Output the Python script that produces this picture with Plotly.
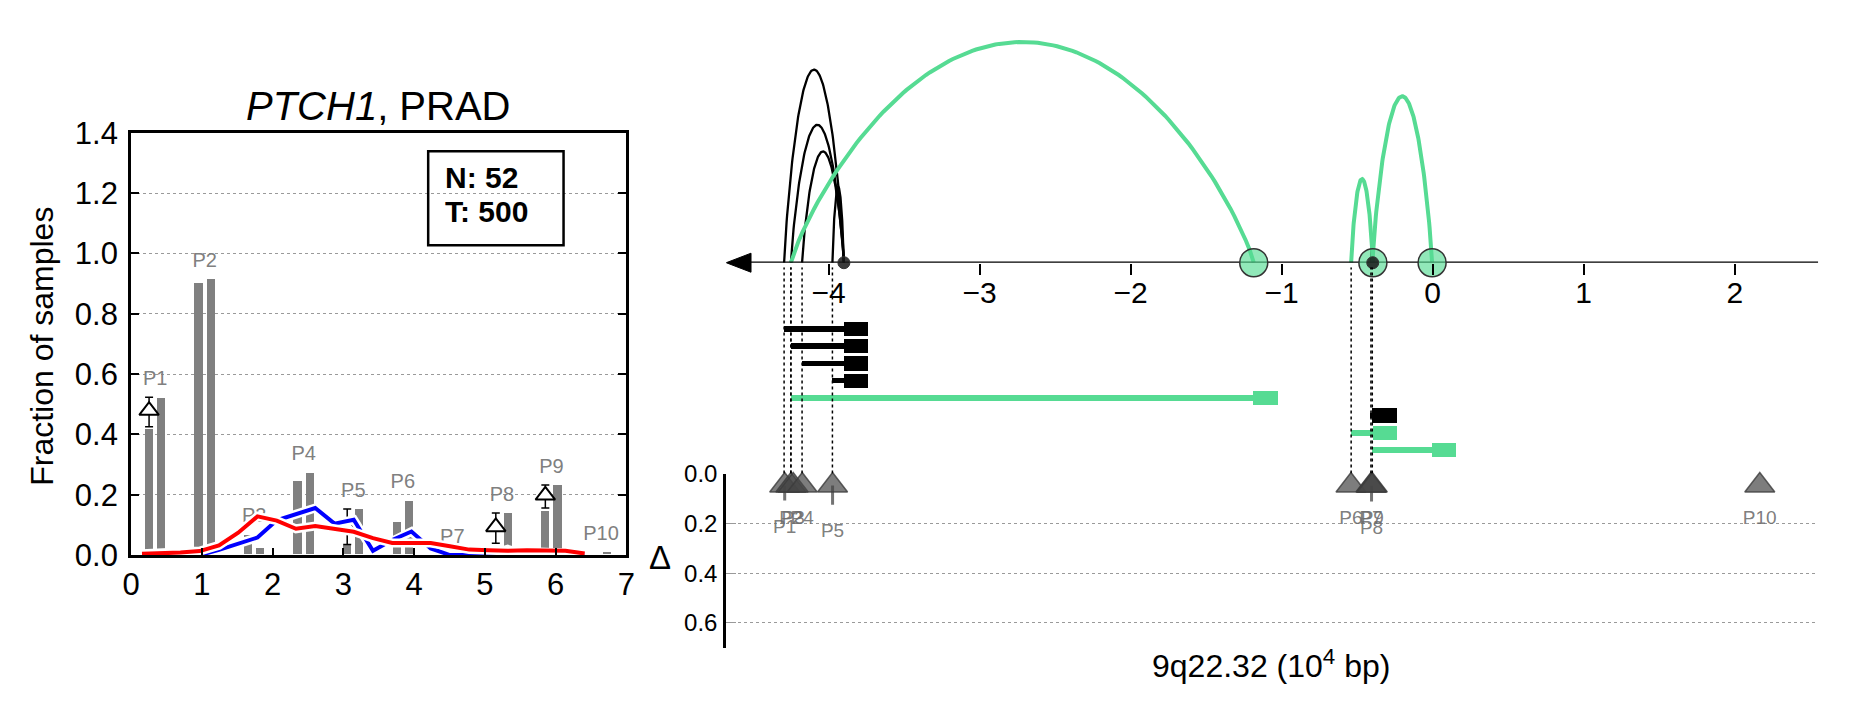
import numpy as np
import plotly.graph_objects as go

FIG_W, FIG_H = 1851, 718
FONT = "Liberation Sans, Arial, sans-serif"
GREEN = "#56DB93"
GREEN_FILL = "rgba(86,219,147,0.65)"
GRAY = "#808080"

# ---------------- left panel data ----------------
peak_names = ["P1", "P2", "P3", "P4", "P5", "P6", "P7", "P8", "P9", "P10"]
peak_x = [0.34, 1.04, 1.74, 2.44, 3.14, 3.84, 4.54, 5.24, 5.94, 6.64]
normal_frac = [0.420, 0.902, 0.068, 0.246, 0.035, 0.109, 0.0, 0.0, 0.148, 0.0]
tumor_frac = [0.523, 0.915, 0.024, 0.274, 0.153, 0.181, 0.0, 0.139, 0.233, 0.011]
delta_peaks = ["P1", "P5", "P8", "P9"]
delta_mid = [0.479, 0.094, 0.093, 0.198]
delta_low = [0.425, 0.035, 0.039, 0.156]
delta_high = [0.523, 0.153, 0.139, 0.232]
cn_x = [0.154, 0.426, 0.698, 0.970, 1.242, 1.514, 1.786, 2.058, 2.330, 2.602, 2.874, 3.146,
        3.418, 3.690, 3.962, 4.234, 4.506, 4.778, 5.050, 5.322, 5.594, 5.866, 6.138, 6.410]
normal_curve = [0.0, 0.0, 0.0, 0.0, 0.017, 0.037, 0.058, 0.115, 0.136, 0.156, 0.104, 0.117,
                0.014, 0.050, 0.078, 0.022, 0.0, 0.0, 0.0, 0.019, 0.0, 0.0, 0.0, 0.0]
tumor_curve = [0.004, 0.005, 0.008, 0.013, 0.032, 0.074, 0.128, 0.114, 0.087, 0.096, 0.087, 0.077,
               0.056, 0.040, 0.040, 0.040, 0.029, 0.018, 0.016, 0.014, 0.016, 0.015, 0.014, 0.005]
n_normal, n_tumor = 52, 500
gene, cohort = "PTCH1", "PRAD"

# ---------------- right panel data ----------------
sv_start = [-4.295, -4.250, -4.176, -3.975, -4.250, -0.409, -0.540, -0.400]
sv_end = [-3.899, -3.899, -3.899, -3.899, -1.185, -0.397, -0.396, -0.004]
sv_kind = ["black", "black", "black", "black", "green", "black", "green", "green"]
sv_height = [203, 145, 117, 80, 232, 23, 88, 175]
bp_pos = [-4.291, -4.250, -4.235, -4.175, -3.974, -0.541, -0.409, -0.405, -0.400, 2.166]
bp_stem = [0.060, 0.0, 0.0, 0.0, 0.077, 0.0, 0.0, 0.064, 0.0, 0.0]
genome_ticks = [-4, -3, -2, -1, 0, 1, 2]
band_label = "9q22.32"

# ---------------- layout constants ----------------
X2_MIN, X2_MAX = -4.678, 2.553
AXIS_PX = 258.3
BAR_OFF, BAR_W = 0.086, 0.116
BAR_BASE = 0.005
BOX_LEN = 0.161
TRI_Y = 0.047
ARROW_LEN = 0.164   # data units (~25px)
ARROW_HALF = 10     # px


def px_x(p):
    return p / FIG_W


def px_y(p):
    return 1 - p / FIG_H


fig = go.Figure()

# ---- left panel: bars ----
lx = [p - BAR_OFF for p in peak_x]
rx = [p + BAR_OFF for p in peak_x]
for xs, vals in [(lx, normal_frac), (rx, tumor_frac)]:
    fig.add_trace(go.Bar(x=xs, y=[max(v - BAR_BASE, 0) for v in vals], base=BAR_BASE,
                         width=BAR_W, marker=dict(color=GRAY, line=dict(width=0)),
                         xaxis="x", yaxis="y", showlegend=False))

# peak labels
label_y = []
for i, name in enumerate(peak_names):
    top = max(normal_frac[i], tumor_frac[i])
    if name in delta_peaks:
        top = max(top, delta_high[delta_peaks.index(name)])
    label_y.append(top + 0.057)
fig.add_trace(go.Scatter(x=peak_x, y=label_y, mode="text", text=peak_names,
                         textfont=dict(color=GRAY, size=20, family=FONT),
                         xaxis="x", yaxis="y", showlegend=False, cliponaxis=False))

# delta markers with error bars
dx = [lx[peak_names.index(p)] for p in delta_peaks]
fig.add_trace(go.Scatter(
    x=dx, y=delta_mid, mode="markers",
    marker=dict(symbol="triangle-up", size=17, color="white", line=dict(color="black", width=2)),
    error_y=dict(type="data", symmetric=False,
                 array=[h - m for h, m in zip(delta_high, delta_mid)],
                 arrayminus=[m - l for m, l in zip(delta_mid, delta_low)],
                 color="black", thickness=1.5, width=4),
    xaxis="x", yaxis="y", showlegend=False))

# curves with white halo
for ys, col in [(normal_curve, "#0000FF"), (tumor_curve, "#FF0000")]:
    fig.add_trace(go.Scatter(x=cn_x, y=ys, mode="lines", line=dict(color="white", width=9),
                             xaxis="x", yaxis="y", showlegend=False, hoverinfo="skip"))
    fig.add_trace(go.Scatter(x=cn_x, y=ys, mode="lines", line=dict(color=col, width=4),
                             xaxis="x", yaxis="y", showlegend=False))

# ---- right panel: dotted verticals ----
vx, vy = [], []
for s in sv_start:
    vx += [s, s, None]
    vy += [0, 1, None]
fig.add_trace(go.Scatter(x=vx, y=vy, mode="lines", line=dict(color="black", width=1.5, dash="dot"),
                         xaxis="x2", yaxis="y5", showlegend=False, hoverinfo="skip"))

# ---- arcs ----
t = np.linspace(0, 1, 121)
for order in ["black", "green"]:
    for s, e, k, h in zip(sv_start, sv_end, sv_kind, sv_height):
        if k != order:
            continue
        xs = s + (e - s) * t
        ys = h * np.power(4 * t * (1 - t), 0.85)
        fig.add_trace(go.Scatter(x=xs, y=ys, mode="lines",
                                 line=dict(color="black" if k == "black" else GREEN,
                                           width=2.3 if k == "black" else 4),
                                 xaxis="x2", yaxis="y2", showlegend=False, cliponaxis=False))

# genome axis line
fig.add_trace(go.Scatter(x=[X2_MIN + ARROW_LEN * 0.5, X2_MAX], y=[0, 0], mode="lines",
                         line=dict(color="black", width=2.5),
                         xaxis="x2", yaxis="y2", showlegend=False, cliponaxis=False))

# breakpoint circles
green_ends = sorted(set(e for e, k in zip(sv_end, sv_kind) if k == "green"))
black_ends = sorted(set(e for e, k in zip(sv_end, sv_kind) if k == "black"))
fig.add_trace(go.Scatter(x=green_ends, y=[0] * len(green_ends), mode="markers",
                         marker=dict(size=28, color=GREEN_FILL, line=dict(color="#333333", width=1.5)),
                         xaxis="x2", yaxis="y2", showlegend=False, cliponaxis=False))
fig.add_trace(go.Scatter(x=black_ends, y=[0] * len(black_ends), mode="markers",
                         marker=dict(size=12, color="rgba(25,25,25,0.85)", line=dict(color="#333333", width=1)),
                         xaxis="x2", yaxis="y2", showlegend=False, cliponaxis=False))

# arrow head (own small axis so the fill is not clipped)
fig.add_trace(go.Scatter(x=[X2_MIN, X2_MIN + ARROW_LEN, X2_MIN + ARROW_LEN, X2_MIN],
                         y=[0, ARROW_HALF, -ARROW_HALF, 0], mode="lines", fill="toself",
                         fillcolor="black", line=dict(color="black", width=1),
                         xaxis="x2", yaxis="y6", showlegend=False, cliponaxis=False,
                         hoverinfo="skip"))

# ---- middle: sv bars ----
rows = list(range(1, len(sv_start) + 1))
for k, col, lw in [("black", "black", 0.31), ("green", GREEN, 0.34)]:
    idx = [i for i in range(len(rows)) if sv_kind[i] == k]
    fig.add_trace(go.Bar(orientation="h", y=[rows[i] for i in idx],
                         x=[sv_end[i] - sv_start[i] for i in idx],
                         base=[sv_start[i] for i in idx], width=lw,
                         marker=dict(color=col, line=dict(width=0)),
                         xaxis="x2", yaxis="y3", showlegend=False))
    fig.add_trace(go.Bar(orientation="h", y=[rows[i] for i in idx],
                         x=[BOX_LEN] * len(idx),
                         base=[sv_end[i] for i in idx], width=0.83,
                         marker=dict(color=col, line=dict(width=0)),
                         xaxis="x2", yaxis="y3", showlegend=False))

# ---- bottom: delta triangles ----
fig.add_trace(go.Scatter(
    x=bp_pos, y=[TRI_Y] * len(bp_pos), mode="markers",
    marker=dict(symbol="triangle-up", size=26, color="rgba(70,70,70,0.7)",
                line=dict(color="rgba(60,60,60,0.8)", width=1.5)),
    error_y=dict(type="data", symmetric=False, array=bp_stem, arrayminus=[0] * len(bp_stem),
                 color="rgba(90,90,90,0.85)", thickness=3, width=0),
    xaxis="x2", yaxis="y4", showlegend=False, cliponaxis=False))
bl_y = [max(0.07, TRI_Y + s) + 0.112 for s in bp_stem]
fig.add_trace(go.Scatter(x=bp_pos, y=bl_y, mode="text", text=peak_names,
                         textfont=dict(color="rgba(110,110,110,0.9)", size=19, family=FONT),
                         xaxis="x2", yaxis="y4", showlegend=False, cliponaxis=False))

# ---------------- layout ----------------
tickfont_big = dict(size=31, color="black", family=FONT)
fig.update_layout(
    width=FIG_W, height=FIG_H, margin=dict(l=0, r=0, t=0, b=0),
    paper_bgcolor="white", plot_bgcolor="rgba(0,0,0,0)",
    barmode="overlay", bargap=0, font=dict(family=FONT),
    xaxis=dict(domain=[px_x(123.3), px_x(623.5)], range=[0, 7], tickvals=list(range(8)),
               ticks="inside", ticklen=7, tickwidth=1.5, tickcolor="black",
               showline=True, linewidth=3, linecolor="black", mirror=True,
               showgrid=False, zeroline=False, tickfont=tickfont_big, ticklabelstandoff=0,
               anchor="y", fixedrange=True),
    yaxis=dict(domain=[px_y(565.6), px_y(121.7)], range=[0, 1.4], dtick=0.2, tickformat=".1f",
               ticks="inside", ticklen=8, tickwidth=1.5, tickcolor="black",
               showline=True, linewidth=3, linecolor="black", mirror="ticks",
               showgrid=True, gridcolor="#9a9a9a", griddash="dot", gridwidth=1,
               zeroline=False, tickfont=tickfont_big, ticklabelstandoff=4, anchor="x"),
    xaxis2=dict(domain=[px_x(724.3), px_x(1827)], range=[X2_MIN, X2_MAX], anchor="y2",
                tickvals=genome_ticks,
                ticktext=[("\u2212" + str(abs(v))) if v < 0 else str(v) for v in genome_ticks],
                ticks="outside", ticklen=11, tickwidth=1.5, tickcolor="black",
                showline=False, showgrid=False, zeroline=False,
                tickfont=dict(size=30, color="black", family=FONT), ticklabelstandoff=-8),
    yaxis2=dict(domain=[px_y(AXIS_PX), 1], range=[0, AXIS_PX], visible=False, anchor="x2"),
    yaxis3=dict(domain=[px_y(470), px_y(310)], range=[8.82, 0.027], visible=False, anchor="x2"),
    yaxis4=dict(domain=[px_y(663), px_y(480.3)], range=[0.7, 0.0], anchor="x2",
                tickvals=[0, 0.2, 0.4, 0.6], tickformat=".1f",
                ticks="inside", ticklen=10, tickwidth=1.2, tickcolor="#999999",
                showline=True, linewidth=3, linecolor="black",
                showgrid=True, gridcolor="#9a9a9a", griddash="dot", gridwidth=1,
                zeroline=False, tickfont=dict(size=24, color="black", family=FONT),
                ticklabelstandoff=1),
    yaxis5=dict(domain=[px_y(480), px_y(263)], range=[0, 1], visible=False, anchor="x2"),
    yaxis6=dict(domain=[px_y(AXIS_PX + 15), px_y(AXIS_PX - 15)], range=[-15, 15],
                visible=False, anchor="x2"),
    shapes=[dict(type="rect", xref="paper", yref="paper", x0=px_x(423.3), x1=px_x(560),
                 y0=px_y(240), y1=px_y(141), line=dict(color="black", width=2.5))],
    annotations=[
        dict(text=f"<i>{gene}</i>, {cohort}", x=px_x(373), y=px_y(94), xref="paper", yref="paper",
             showarrow=False, font=dict(size=40, color="black", family=FONT),
             xanchor="center", yanchor="middle"),
        dict(text="Fraction of samples", x=px_x(33), y=px_y(346), xref="paper", yref="paper",
             showarrow=False, textangle=-90, font=dict(size=32, color="black", family=FONT),
             xanchor="center", yanchor="middle"),
        dict(text=f"<b>N: {n_normal}</b>", x=px_x(438), y=px_y(169), xref="paper", yref="paper",
             showarrow=False, font=dict(size=30, color="black", family=FONT),
             xanchor="left", yanchor="middle"),
        dict(text=f"<b>T: {n_tumor}</b>", x=px_x(438), y=px_y(204), xref="paper", yref="paper",
             showarrow=False, font=dict(size=30, color="black", family=FONT),
             xanchor="left", yanchor="middle"),
        dict(text="\u0394", x=px_x(657.5), y=px_y(568), xref="paper", yref="paper",
             showarrow=False, font=dict(size=33, color="black", family=FONT),
             xanchor="center", yanchor="middle"),
        dict(text=f"{band_label} (10<sup>4</sup> bp)", x=px_x(1274), y=px_y(680),
             xref="paper", yref="paper", showarrow=False,
             font=dict(size=32, color="black", family=FONT), xanchor="center", yanchor="middle"),
    ],
)

fig.write_html("out.html", config={"displayModeBar": False},
               post_script="document.body.style.margin='0px';document.body.style.padding='0px';"
                           "document.body.style.overflow='hidden';")
